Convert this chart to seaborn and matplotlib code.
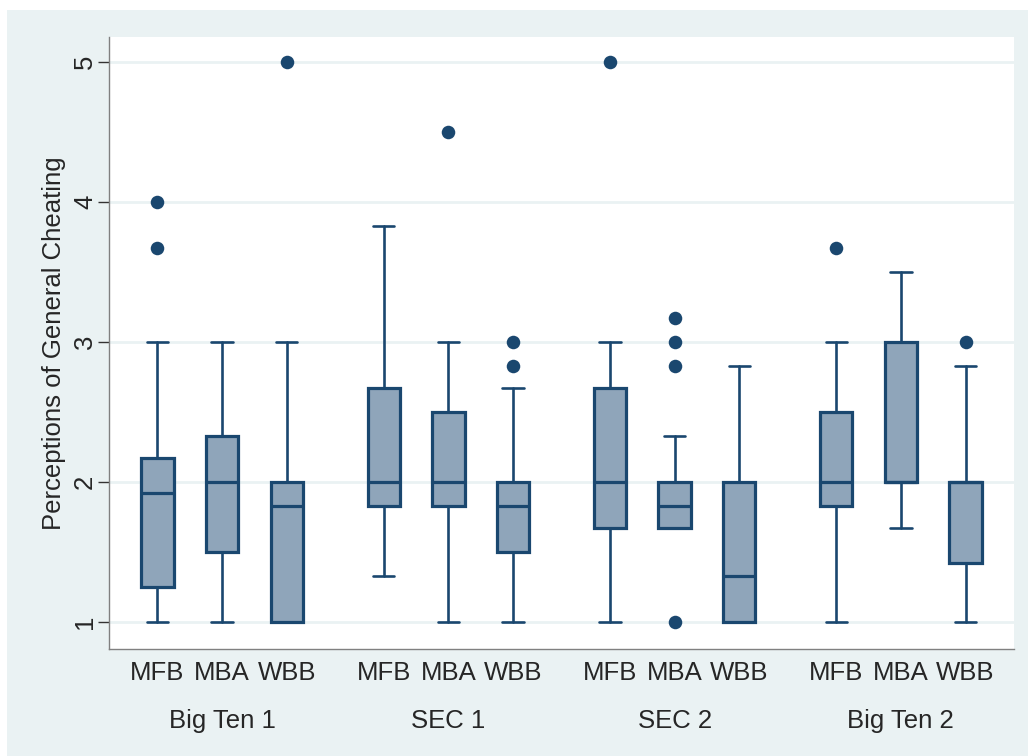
import matplotlib
matplotlib.use("Agg")
import matplotlib.pyplot as plt
import matplotlib.transforms as mtransforms
from matplotlib.patches import Rectangle
import seaborn as sns
import pandas as pd

# ---- data ----
groups = ["Big Ten 1", "SEC 1", "SEC 2", "Big Ten 2"]
teams = ["MFB", "MBA", "WBB"]
q1 = [1.25, 1.50, 1.00, 1.83, 1.83, 1.50, 1.67, 1.67, 1.00, 1.83, 2.00, 1.42]
med = [1.92, 2.00, 1.83, 2.00, 2.00, 1.83, 2.00, 1.83, 1.33, 2.00, 2.00, 2.00]
q3 = [2.17, 2.33, 2.00, 2.67, 2.50, 2.00, 2.67, 2.00, 2.00, 2.50, 3.00, 2.00]
whislo = [1.00, 1.00, 1.00, 1.33, 1.00, 1.00, 1.00, 1.67, 1.00, 1.00, 1.67, 1.00]
whishi = [3.00, 3.00, 3.00, 3.83, 3.00, 2.67, 3.00, 2.33, 2.83, 3.00, 3.50, 2.83]
fliers = [[3.67, 4.0], [], [5.0],
          [], [4.5], [2.83, 3.0],
          [5.0], [1.0, 2.83, 3.0, 3.17], [],
          [3.67], [], [3.0]]
yticks = [1, 2, 3, 4, 5]
ylabel = "Perceptions of General Cheating"

# ---- style ----
sns.set_theme(style="white")
plt.rcParams["font.family"] = ["Liberation Sans", "DejaVu Sans"]

NAVY = "#1A476F"
FILL = "#8FA5BA"
BG = "#EAF2F3"
FS = 18.5

fig = plt.figure(figsize=(10.28, 7.56), dpi=100, facecolor="white")
fig.patches.append(Rectangle((7 / 1028, 0), 1, (756 - 10) / 756,
                             transform=fig.transFigure, facecolor=BG,
                             edgecolor="none", zorder=-10))
ax = fig.add_axes([109 / 1028, (756 - 649) / 756, (1014 - 109) / 1028, (649 - 37) / 756])
ax.set_facecolor("white")

gap = 3.5
positions = [g * gap + i for g in range(len(groups)) for i in range(len(teams))]

stats = []
for k in range(len(positions)):
    stats.append(dict(med=med[k], q1=q1[k], q3=q3[k], whislo=whislo[k],
                      whishi=whishi[k], fliers=[]))

ax.bxp(stats, positions=positions, widths=0.5, capwidths=0.33,
       showfliers=False, patch_artist=True,
       boxprops=dict(facecolor=FILL, edgecolor=NAVY, linewidth=2.3),
       medianprops=dict(color=NAVY, linewidth=2.3),
       whiskerprops=dict(color=NAVY, linewidth=1.9),
       capprops=dict(color=NAVY, linewidth=1.9))

fx, fy = [], []
for k, fl in enumerate(fliers):
    for v in fl:
        fx.append(positions[k])
        fy.append(v)
fdf = pd.DataFrame({"x": fx, "y": fy})
sns.scatterplot(data=fdf, x="x", y="y", ax=ax, color=NAVY, s=95,
                edgecolor=NAVY, linewidth=0, zorder=5, legend=False)

ax.set_xlim(-0.75, positions[-1] + 0.75)
ax.set_ylim(0.807, 5.18)
ax.set_yticks(yticks)
ax.set_yticklabels([str(t) for t in yticks], rotation=90, va="center", fontsize=FS)
ax.tick_params(axis="y", length=8, width=1, color="#333333", pad=0.5, left=True)
ax.set_xticks(positions)
ax.set_xticklabels(teams * len(groups), fontsize=FS)
ax.tick_params(axis="x", length=0, pad=9)
ax.set_xlabel("")
ax.set_ylabel(ylabel, fontsize=FS)
ax.yaxis.set_label_coords(-0.0475, 0.5)

ax.grid(axis="y", color=BG, linewidth=2)
ax.grid(axis="x", visible=False)
ax.set_axisbelow(True)

for s in ["top", "right"]:
    ax.spines[s].set_visible(False)
for s in ["left", "bottom"]:
    ax.spines[s].set_color("#808080")
    ax.spines[s].set_linewidth(1)

trans = mtransforms.blended_transform_factory(ax.transData, ax.transAxes)
for g, name in enumerate(groups):
    ax.text(g * gap + 1, -0.129, name, transform=trans, ha="center", va="baseline",
            fontsize=FS)

fig.savefig("out.png", dpi=100, facecolor=fig.get_facecolor())
